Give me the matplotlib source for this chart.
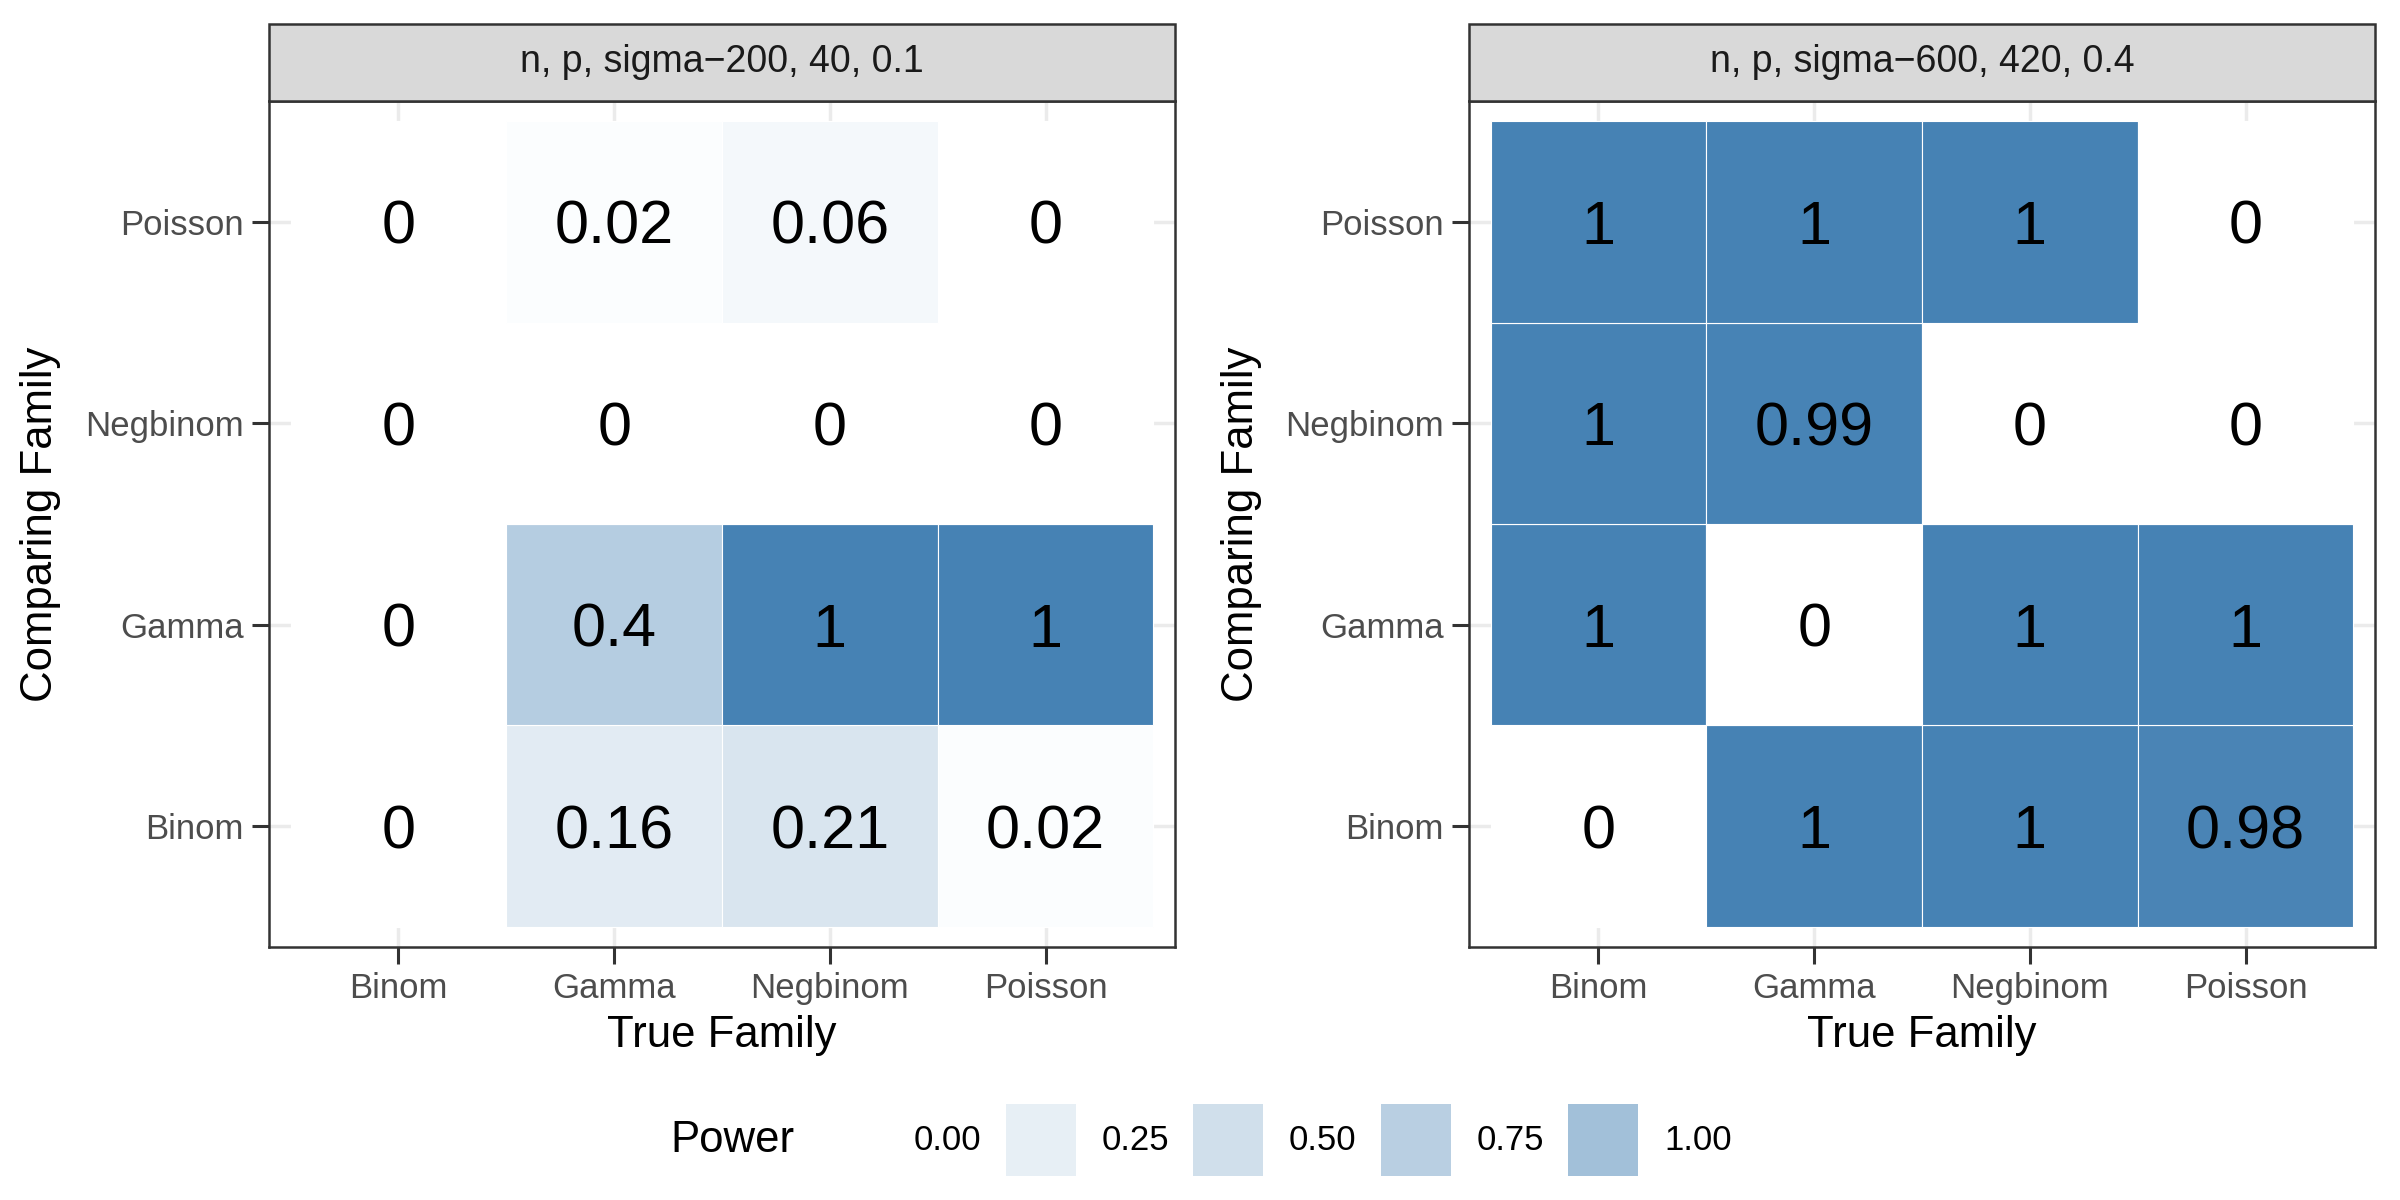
import numpy as np
import matplotlib
matplotlib.use("Agg")
import matplotlib.pyplot as plt
from matplotlib.colors import LinearSegmentedColormap
from matplotlib.patches import Rectangle

plt.rcParams['font.family'] = ['Liberation Sans', 'DejaVu Sans']

families = ["Binom", "Gamma", "Negbinom", "Poisson"]
strip_left = "n, p, sigma\u2212200, 40, 0.1"
strip_right = "n, p, sigma\u2212600, 420, 0.4"

# rows = comparing family (Binom, Gamma, Negbinom, Poisson), cols = true family
power_left = [
    [0, 0.16, 0.21, 0.02],
    [0, 0.4, 1, 1],
    [0, 0, 0, 0],
    [0, 0.02, 0.06, 0],
]
power_right = [
    [0, 1, 1, 0.98],
    [1, 0, 1, 1],
    [1, 0.99, 0, 0],
    [1, 1, 1, 0],
]
legend_breaks = [0.0, 0.25, 0.5, 0.75, 1.0]
legend_labels = ["0.00", "0.25", "0.50", "0.75", "1.00"]

cmap = LinearSegmentedColormap.from_list("pw", ["white", "steelblue"])

fig = plt.figure(figsize=(24, 12), dpi=100)

W, H = 2400, 1200
panel_h = 846
strip_h = 77


def draw_panel(left_px, values, strip):
    ax = fig.add_axes([left_px / W, 1 - 947 / H, 906 / W, panel_h / H])
    vals = np.array(values)
    n = len(families)
    ax.set_xlim(-0.6, n - 0.4)
    ax.set_ylim(-0.6, n - 0.4)
    ax.set_xticks(range(n))
    ax.set_yticks(range(n))
    ax.set_xticklabels(families)
    ax.set_yticklabels(families)
    ax.grid(True, color="#EBEBEB", linewidth=2.5, zorder=0)
    ax.set_axisbelow(True)
    for i in range(n):
        for j in range(n):
            v = vals[i, j]
            ax.add_patch(Rectangle((j - 0.5, i - 0.5), 1, 1, facecolor=cmap(v),
                                   edgecolor="white", linewidth=0.8, zorder=2))
            ax.text(j, i, f"{v:g}", ha="center", va="center_baseline",
                    fontsize=44, color="black", zorder=3)
    for s in ax.spines.values():
        s.set_color("#333333")
        s.set_linewidth(1.8)
        s.set_zorder(4)
    ax.tick_params(length=12, width=2.2, color="#333333", labelsize=25,
                   labelcolor="#4D4D4D", pad=6)
    ax.set_xlabel("True Family", fontsize=31.5)
    ax.set_ylabel("Comparing Family", fontsize=31.5)
    ax.xaxis.set_label_coords(0.5, -(1035 - 947) / panel_h)
    ax.xaxis.label.set_va("center")
    ax.yaxis.set_label_coords((41 - 269) / 906, 0.5)
    ax.yaxis.label.set_va("center")
    ax.add_patch(Rectangle((0, 1), 1, strip_h / panel_h, transform=ax.transAxes,
                           facecolor="#D9D9D9", edgecolor="#333333", linewidth=1.8,
                           clip_on=False, zorder=5))
    ax.text(0.5, 1 + strip_h / panel_h / 2, strip, transform=ax.transAxes,
            ha="center", va="center", fontsize=27, color="#1A1A1A", zorder=6)
    return ax


draw_panel(269, power_left, strip_left)
draw_panel(1469, power_right, strip_right)

# legend drawn in pixel space
lax = fig.add_axes([0, 0, 1, 1], facecolor="none")
lax.set_xlim(0, W)
lax.set_ylim(H, 0)
lax.axis("off")
lax.text(670, 1140, "Power", fontsize=31.5, ha="left", va="center")
key_w = 70
key_top = 1104
for k, (b, lab) in enumerate(zip(legend_breaks, legend_labels)):
    kx = 818 + k * 187.5
    lax.add_patch(Rectangle((kx, key_top), key_w, 72, facecolor=cmap(b),
                            alpha=0.5, edgecolor="none"))
    lax.text(kx + 96, 1140, lab, fontsize=25, ha="left", va="center",
             color="black")

fig.savefig("out.png", dpi=100)
